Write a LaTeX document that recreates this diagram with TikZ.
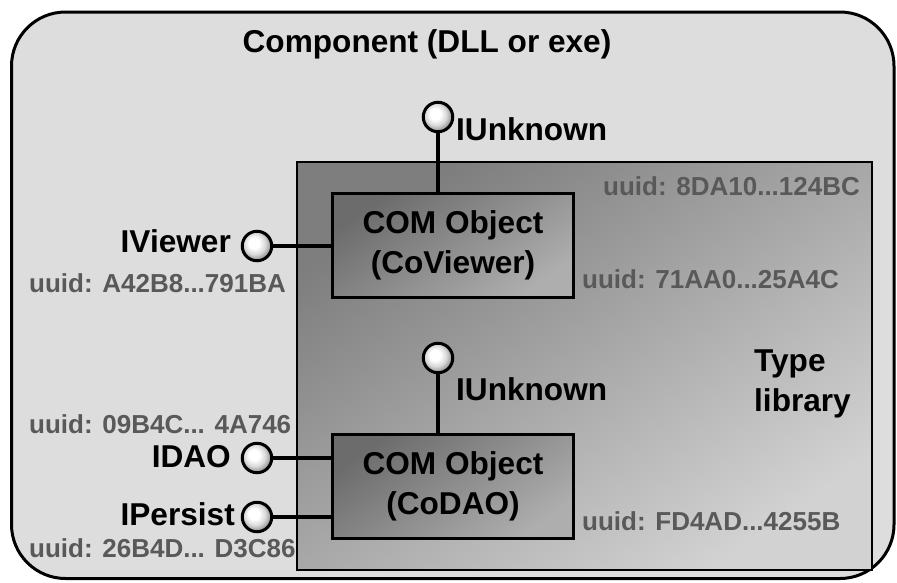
\documentclass[tikz,border=0pt]{standalone}
\usepackage{fontspec}
\setmainfont{Liberation Sans}
\usepackage{tikz}
\usetikzlibrary{positioning}
\usepackage{xcolor}

\definecolor{compfill}{HTML}{DDDDDD}
\definecolor{libdark}{HTML}{7E7E7E}
\definecolor{liblight}{HTML}{D2D2D2}
\definecolor{objdark}{HTML}{6C6C6C}
\definecolor{objlight}{HTML}{AEAEAE}
\definecolor{uuidgray}{HTML}{595959}

\pgfdeclareradialshading{ifaceball}{\pgfpoint{-6bp}{6bp}}{color(0bp)=(white); color(9bp)=(white);
  color(18bp)=(white!85!black); color(25bp)=(white!62!black); color(50bp)=(white!40!black)}

\tikzset{
  bigtext/.style={inner sep=0pt, font=\fontsize{31.6pt}{40pt}\selectfont\bfseries},
  uuidtext/.style={inner sep=0pt, text=uuidgray, font=\fontsize{26pt}{30pt}\selectfont\bfseries},
  comobj/.style={draw, line width=3pt, inner sep=0pt, minimum width=241pt, minimum height=104pt,
    align=center, top color=objdark, bottom color=objlight, shading angle=35,
    font=\fontsize{31.6pt}{40pt}\selectfont\bfseries},
  iball/.style={circle, draw, line width=3pt, inner sep=0pt, minimum size=29.5pt, shade, shading=ifaceball},
  iwire/.style={line width=3.2pt}
}

\begin{document}
\begin{tikzpicture}[x=1pt, y=-1pt]
		\useasboundingbox (0,0) rectangle (897,582);
		% component
		\draw[line width=3pt, rounded corners=54pt, fill=compfill] (11.5,12) rectangle (894,578.5);
		\node[bigtext, anchor=base] (comp) at (427,52) {Component (DLL or exe)};
		% type library
		\shade[top color=libdark, bottom color=liblight, shading angle=35] (297,162) rectangle (872,570);
		\draw[line width=1.3pt] (297,162) rectangle (872,570);
		\node[bigtext, anchor=north west, align=left] (tlib) at (754,350) {Type\\library};
		\node[uuidtext, anchor=base west] (uuidlib) at (603,195) {uuid: 8DA10...124BC};
		
		% objects
		\draw (453,245.5) node[comobj] (viewer) {COM Object\\(CoViewer)}
		(453,486.5) node[comobj] (dao) {COM Object\\(CoDAO)};
		\node[uuidtext, anchor=base west] (uuidviewer) at (582,288) {uuid: 71AA0...25A4C};
		\node[uuidtext, anchor=base west] (uuiddao) at (582,530) {uuid: FD4AD...4255B};
		
		% interfaces
		\draw (438,117) node[iball] (unkA) {}
		(438,358) node[iball] (unkB) {}
		(257,246) node[iball] (iview) {}
		(257,458) node[iball] (idao) {}
		(257,517) node[iball] (ipers) {};
		
		\draw[iwire] (unkA) -- (unkA |- viewer.north);
		\draw[iwire] (unkB) -- (unkB |- dao.north);
		\draw[iwire] (iview) -- (iview -| viewer.west);
		\draw[iwire] (idao) -- (idao -| dao.west);
		\draw[iwire] (ipers) -- (ipers -| dao.west);
		
		\node[bigtext, anchor=base west] (unkAlbl) at (456,140) {IUnknown};
		\node[bigtext, anchor=base west] (unkBlbl) at (456,400) {IUnknown};
		\node[bigtext, anchor=base east] (iviewlbl) at (231,252) {IViewer};
		\node[bigtext, anchor=base east] (idaolbl) at (231,467) {IDAO};
		\node[bigtext, anchor=base east] (iperslbl) at (235,525) {IPersist};
		
		\node[uuidtext, anchor=base west] (uuidview) at (29,292) {uuid: A42B8...791BA};
		\node[uuidtext, anchor=base west] (uuiddaoif) at (29,433) {uuid: 09B4C... 4A746};
		\node[uuidtext, anchor=base west] (uuidpers) at (29,557) {uuid: 26B4D... D3C86};
	\end{tikzpicture}
\end{document}
